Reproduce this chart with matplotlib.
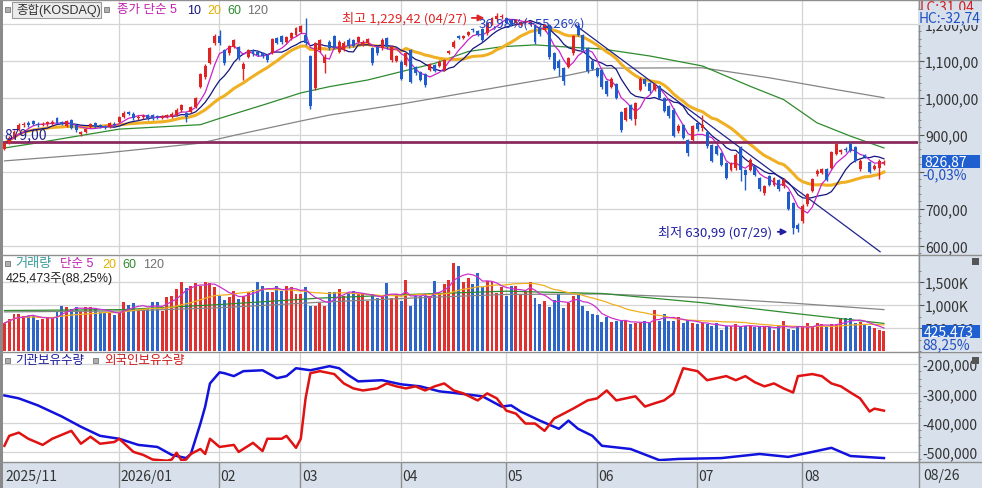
import numpy as np
import pandas as pd
import matplotlib
matplotlib.use("Agg")
import matplotlib.pyplot as plt
from matplotlib.patches import Rectangle
from matplotlib.lines import Line2D

NUM_FONT = ['Liberation Sans Narrow', 'Noto Sans CJK KR', 'DejaVu Sans']
HDR_FONT = ['Liberation Sans', 'Noto Sans CJK KR', 'DejaVu Sans']
plt.rcParams['font.family'] = NUM_FONT

# ---- daily candles (KOSDAQ), 2025/11/26 .. 2026/08/26 ----
opens = [862, 878, 893, 912, 925, 932, 937, 930, 927, 928, 930, 944, 934, 924, 939, 926, 901, 907, 922, 932, 925, 924, 921, 930,
         934, 948, 962, 957, 944, 947, 953, 952, 950, 946, 948, 948, 953, 966, 959, 962, 975, 1030, 1057, 1093, 1148,
         1167, 1129, 1120, 1138, 1138, 1077, 1111, 1128, 1124, 1122, 1115, 1122, 1161, 1167, 1152, 1161, 1170,
         1178, 1170, 1113, 1025, 1129, 1095, 1152, 1166, 1125, 1130, 1157, 1156, 1152, 1143, 1148, 1134, 1137, 1134, 1161, 1102, 1100,
         1098, 1089, 1129, 1084, 1070, 1064, 1075, 1089, 1086, 1075, 1120, 1138, 1166, 1162, 1170, 1186, 1180, 1186, 1175, 1202, 1212, 1218,
         1215, 1211, 1202, 1198, 1204, 1200, 1197, 1188, 1184, 1197, 1120, 1100, 1080, 1084, 1120, 1193, 1170, 1134, 1100,
         1080, 1075, 1045, 1030, 1036, 962, 941, 980, 942, 1022, 1051, 1040, 1022, 1031, 1000, 977, 968, 909, 925, 886, 886,
         932, 918, 906, 873, 870, 850, 823, 805, 809, 865, 805, 805, 814, 782, 741, 787, 764, 778, 760, 745, 716, 656,
         666, 712, 748, 793, 797, 807, 811, 848, 852, 862, 875, 866, 807, 845, 825, 808, 811, 822]
closes = [877, 892, 908, 926, 929, 926, 930, 927, 930, 933, 935, 931, 928, 938, 917, 912, 907, 916, 928, 921, 921, 920, 932, 927,
          948, 959, 957, 945, 949, 951, 944, 944, 947, 950, 952, 957, 968, 980, 948, 974, 998, 1064, 1086, 1134, 1166,
          1148, 1093, 1140, 1155, 1107, 1092, 1129, 1117, 1116, 1112, 1102, 1158, 1149, 1150, 1164, 1175, 1188,
          1193, 1148, 977, 1148, 1155, 1110, 1134, 1136, 1152, 1149, 1139, 1140, 1164, 1152, 1158, 1093, 1120, 1157, 1137, 1138, 1112,
          1052, 1120, 1043, 1066, 1048, 1034, 1090, 1073, 1098, 1102, 1127, 1152, 1161, 1167, 1177, 1182, 1170, 1155, 1202, 1215, 1222, 1222,
          1203, 1198, 1211, 1206, 1208, 1204, 1150, 1172, 1197, 1111, 1078, 1080, 1045, 1107, 1166, 1170, 1130, 1072, 1078,
          1060, 1028, 1010, 1052, 1000, 913, 972, 943, 985, 1051, 1036, 1018, 1036, 1000, 965, 950, 897, 924, 892, 850, 923,
          914, 925, 868, 830, 848, 818, 783, 822, 846, 805, 790, 832, 792, 752, 760, 765, 782, 752, 778, 700, 648, 646,
          707, 739, 780, 802, 806, 778, 852, 875, 858, 858, 857, 830, 830, 840, 800, 816, 830, 826.87]
highs = [880, 896, 912, 931, 935, 936, 940, 934, 934, 937, 939, 947, 938, 941, 942, 929, 910, 919, 931, 934, 928, 927, 934, 933,
         951, 963, 965, 960, 953, 955, 956, 955, 953, 953, 955, 960, 971, 984, 962, 978, 1002, 1068, 1090, 1138, 1172,
         1182, 1132, 1143, 1159, 1141, 1096, 1133, 1131, 1127, 1125, 1118, 1162, 1165, 1170, 1168, 1179, 1192,
         1197, 1215, 1116, 1152, 1159, 1118, 1156, 1170, 1156, 1153, 1161, 1160, 1168, 1156, 1162, 1137, 1140, 1161, 1165, 1142, 1116,
         1101, 1124, 1131, 1087, 1073, 1067, 1094, 1092, 1101, 1105, 1130, 1155, 1169, 1170, 1180, 1189, 1183, 1189, 1205, 1218, 1229.42, 1226,
         1218, 1214, 1214, 1209, 1212, 1208, 1200, 1191, 1200, 1200, 1123, 1104, 1083, 1110, 1170, 1202, 1173, 1137, 1104,
         1084, 1078, 1049, 1056, 1040, 965, 976, 984, 989, 1055, 1054, 1043, 1040, 1034, 1003, 980, 971, 930, 928, 889, 927,
         935, 954, 909, 876, 873, 853, 826, 826, 850, 868, 808, 836, 817, 785, 764, 790, 786, 781, 782, 748, 719, 660,
         711, 743, 784, 806, 810, 810, 856, 880, 862, 866, 880, 869, 834, 848, 828, 820, 834, 831]
lows = [858, 875, 890, 909, 920, 921, 926, 922, 923, 924, 927, 928, 925, 920, 914, 908, 897, 904, 919, 918, 917, 916, 918, 923,
        931, 945, 953, 941, 940, 943, 940, 940, 943, 942, 944, 945, 950, 962, 935, 958, 971, 1026, 1052, 1090, 1143,
        1144, 1088, 1115, 1134, 1103, 1048, 1107, 1113, 1112, 1108, 1098, 1118, 1145, 1146, 1148, 1157, 1166,
        1174, 1144, 970, 1020, 1125, 1066, 1130, 1132, 1121, 1126, 1135, 1136, 1148, 1139, 1144, 1089, 1116, 1130, 1133, 1098, 1096,
        1048, 1085, 1039, 1062, 1044, 1030, 1071, 1069, 1082, 1071, 1117, 1135, 1158, 1159, 1167, 1179, 1167, 1151, 1171, 1198, 1208, 1214,
        1199, 1194, 1198, 1194, 1200, 1196, 1145, 1168, 1180, 1106, 1074, 1058, 1035, 1080, 1116, 1166, 1126, 1068, 1074,
        1055, 1024, 1005, 1026, 996, 908, 937, 939, 925, 1018, 1032, 1014, 1018, 996, 961, 945, 893, 904, 888, 841, 882,
        910, 909, 864, 826, 844, 814, 779, 801, 805, 775, 750, 801, 788, 748, 737, 761, 760, 748, 756, 696, 630.99, 636,
        662, 708, 744, 789, 793, 774, 807, 844, 848, 854, 853, 826, 803, 836, 796, 804, 780, 818]

# volume in thousand shares
volume = [608, 695, 804, 804, 753, 768, 753, 674, 695, 732, 710, 876, 971, 949, 913, 949, 876, 949, 949, 913, 840, 826, 840, 782,
          840, 1058, 1000, 1043, 913, 913, 927, 1072, 1058, 876, 1166, 1203, 1348, 1507, 1362, 1405, 1478, 1420, 1507, 1471, 1384,
          1203, 1116, 1166, 1311, 1130, 1203, 1275, 1333, 1492, 1405, 1275, 1275, 1420, 1311, 1405, 1384, 1239,
          1239, 1384, 985, 985, 1038, 984, 1292, 1292, 1346, 1192, 1269, 1307, 1230, 1269, 1077, 1230, 1154, 1169, 1476, 1154, 1230,
          1077, 1538, 977, 1192, 1192, 1192, 1192, 1523, 1269, 1446, 1538, 1907, 1846, 1500, 1577, 1446, 1692, 1384, 1523, 1523, 1269, 1400,
          1192, 1423, 1423, 1230, 1307, 1500, 1154, 1015, 1092, 961, 1115, 1230, 938, 1038, 1192, 1215, 984, 861, 807,
          784, 631, 731, 631, 654, 654, 654, 577, 615, 615, 654, 615, 884, 654, 807, 654, 654, 731, 600, 677, 615,
          577, 600, 577, 554, 600, 461, 538, 554, 577, 523, 538, 554, 523, 523, 523, 523, 446, 538, 654, 477, 461, 523,
          523, 600, 523, 600, 577, 523, 577, 577, 707, 707, 707, 615, 631, 577, 538, 500, 460, 425.473]

# longer moving averages (they need history before the window)
ma60_idx = [0, 6, 24, 41, 45, 55, 62, 68, 76, 90, 97, 104, 111, 118, 125, 135, 146, 156, 163, 170, 177, 184]
ma60_val = [864, 876, 915, 927, 944, 984, 1013, 1030, 1048, 1093, 1125, 1138, 1143, 1137, 1132, 1113, 1086, 1031, 995, 932, 896, 864]
ma120_idx = [0, 20, 41, 48, 62, 68, 83, 104, 118, 125, 146, 160, 174, 184]
ma120_val = [829, 849, 877, 898, 937, 953, 983, 1030, 1061, 1080, 1081, 1054, 1022, 1000]
vma60_idx = [0, 25, 45, 66, 85, 105, 125, 146, 165, 184]
vma60_val = [880, 900, 1010, 1150, 1230, 1300, 1250, 1050, 820, 600]
vma120_idx = [0, 25, 45, 66, 85, 105, 125, 146, 165, 184]
vma120_val = [850, 870, 940, 1060, 1150, 1230, 1240, 1160, 1040, 900]

# holdings (thousand shares)
inst_idx = [0, 3, 7, 12, 16, 20, 24, 28, 32, 35, 38, 39, 40, 41, 42, 43, 45, 46, 48, 50, 54, 57, 59, 61, 64, 68, 70, 72, 74,
            79, 83, 87, 91, 95, 100, 104, 106, 108, 112, 116, 118, 120, 123, 125, 131, 137, 141, 150, 158, 164, 169, 173, 177, 184]
inst_val = [-307, -317, -341, -379, -414, -445, -455, -476, -483, -510, -521, -507, -455, -403, -345, -266, -228, -231, -241,
            -224, -221, -248, -241, -214, -221, -207, -214, -238, -259, -255, -269, -276, -293, -300, -310, -345, -341, -362,
            -393, -421, -393, -421, -445, -479, -490, -528, -524, -521, -507, -517, -500, -486, -514, -521]
frgn_idx = [0, 1, 3, 5, 8, 10, 14, 16, 18, 20, 23, 24, 27, 29, 31, 34, 35, 36, 37, 38, 39, 41, 42, 43, 45, 48, 49, 52, 54, 55,
            58, 59, 61, 62, 63, 64, 66, 69, 71, 73, 75, 78, 80, 82, 84, 86, 88, 90, 92, 94, 96, 99, 101, 103, 105, 107, 109,
            111, 113, 115, 117, 119, 122, 124, 126, 128, 130, 132, 134, 136, 138, 140, 142, 145, 147, 149, 151, 153, 155, 157,
            159, 161, 163, 165, 166, 169, 171, 173, 175, 177, 179, 181, 182, 184]
frgn_val = [-479, -445, -434, -455, -476, -455, -428, -472, -448, -472, -466, -455, -500, -510, -526, -530, -526, -503, -528,
            -526, -507, -490, -507, -455, -483, -476, -500, -469, -497, -455, -455, -445, -486, -455, -317, -231, -224, -234,
            -266, -283, -290, -283, -266, -276, -283, -276, -290, -276, -266, -290, -300, -324, -300, -317, -359, -369, -403,
            -403, -428, -386, -369, -352, -324, -317, -290, -324, -317, -310, -345, -334, -324, -300, -214, -224, -255, -248,
            -241, -255, -241, -262, -276, -266, -283, -297, -241, -234, -241, -266, -276, -297, -317, -362, -352, -359]

trend_idx = [119.4, 183.2]
trend_val = [1197, 583]
hline_val = 879

month_idx = [0, 24, 45, 62, 83, 105, 124, 145, 167]
month_lbl = ['2025/11', '2026/01', '02', '03', '04', '05', '06', '07', '08']

RED = '#e02424'
BLUE = '#1f5ccc'
GRID = '#d4d4d4'
STRIP = '#d8e1eb'
SEP = '#8f8f8f'


def kr(v, fmt):
    # Korean HTS style: thousands with ',' and decimals with ','
    return format(v, fmt).replace('.', ',')


W, H = 982, 489
fig = plt.figure(figsize=(W / 100, H / 100), dpi=100, facecolor='white')


def pax(x0, y0, x1, y1):
    return fig.add_axes([x0 / W, 1 - y1 / H, (x1 - x0) / W, (y1 - y0) / H])


def fx(x):
    return x / W


def fy(y):
    return 1 - y / H


PX = 4.78
XL = (-0.3, -0.3 + 915 / PX)

fig.add_artist(Rectangle((fx(918), 0), fx(64), 1, transform=fig.transFigure, facecolor=STRIP, edgecolor='none', zorder=-5))

ax1 = pax(3, 1, 918, 255)
ax2 = pax(3, 256, 918, 352)
ax3 = pax(3, 353, 918, 462)
ax4 = pax(3, 463, 918, 489)

for ax in (ax1, ax2, ax3):
    ax.set_xlim(XL)
    for s in ax.spines.values():
        s.set_visible(False)
    ax.tick_params(axis='x', bottom=False, labelbottom=False)
    ax.yaxis.tick_right()
    ax.tick_params(axis='y', which='major', direction='out', length=4, width=0.8, color='#555555',
                   pad=1, labelsize=10, labelcolor='#333333')
    ax.tick_params(axis='y', which='minor', direction='out', length=2, width=0.6, color='#777777')
    for m in month_idx[1:]:
        ax.axvline(m - 0.1, color=GRID, lw=0.9, zorder=0)

o = np.array(opens, float)
c = np.array(closes, float)
h = np.array(highs, float)
l = np.array(lows, float)
x = np.arange(len(c))
up = c >= o
cols = np.where(up, RED, BLUE)

# ---- price panel ----
ax1.set_ylim(577, 1264.5)
pt = [600, 700, 800, 900, 1000, 1100, 1200]
ax1.set_yticks(pt)
# 800 sits under the current-price box in the reference
ax1.set_yticklabels(['' if v == 800 else kr(v, ',') + ',00' for v in pt])
ax1.set_yticks(np.arange(580, 1260, 20), minor=True)
for v in pt:
    ax1.axhline(v, color=GRID, lw=0.9, zorder=0)

cs = pd.Series(c)
ax1.plot(ma120_idx, ma120_val, color='#858585', lw=0.9, zorder=2)
ax1.plot(ma60_idx, ma60_val, color='#2e8b2e', lw=0.9, zorder=2)
ax1.plot(x, cs.rolling(20, min_periods=1).mean(), color='#f0b024', lw=2.2, zorder=2)
ax1.plot(x, cs.rolling(10, min_periods=1).mean(), color='#141480', lw=0.9, zorder=2)
ax1.plot(x, cs.rolling(5, min_periods=1).mean(), color='#cc22cc', lw=0.9, zorder=2)
ax1.axhline(hline_val, color='#8a2a5e', lw=2, zorder=2.5)
ax1.plot(trend_idx, trend_val, color='#22228c', lw=0.9, zorder=2.5)

ax1.vlines(x, l, h, colors=cols, lw=1, zorder=3)
ax1.bar(x, np.maximum(np.abs(c - o), 2.2), bottom=np.minimum(o, c), width=0.62, color=cols, lw=0, zorder=4)

ax1.text(0.0, hline_val + 4, kr(hline_val, '.2f'), color='#22228c', fontsize=10, va='bottom', ha='left', zorder=6)
imax = int(np.argmax(h))
imin = int(np.argmin(l))
ax1.annotate('', xy=(imax - 2.0, 1216), xytext=(imax - 5.8, 1216),
             arrowprops=dict(arrowstyle='-|>', color=RED, lw=1.3, mutation_scale=9), zorder=6)
ax1.text(imax - 6.2, 1216, "최고 " + kr(h[imax], ',.2f').replace(',', ',') + " (04/27)", color=RED, fontsize=9.5,
         ha='right', va='center', zorder=6)
ax1.text(imax - 3.8, 1203, "36,98%(+55,26%)", color='#2040c0', fontsize=9.5, ha='left', va='center', zorder=6)
ax1.annotate('', xy=(imin - 0.6, 637), xytext=(imin - 3.8, 637),
             arrowprops=dict(arrowstyle='-|>', color='#2020a0', lw=1.3, mutation_scale=9), zorder=6)
ax1.text(imin - 4.3, 637, "최저 " + kr(l[imin], '.2f') + " (07/29)", color='#2020a0', fontsize=9.5,
         ha='right', va='center', zorder=6)

# ---- volume panel ----
vol = np.array(volume, float)
ax2.set_ylim(0, 2087)
vt = [500, 1000, 1500]
ax2.set_yticks(vt)
ax2.set_yticklabels(['500,000', '1,000K', '1,500K'])
ax2.set_yticks(np.arange(0, 2000, 250), minor=True)
for v in vt:
    ax2.axhline(v, color=GRID, lw=0.9, zorder=0)
ax2.bar(x, vol, width=0.62, color=np.where(up, '#e03030', '#2d66c8'), lw=0, zorder=2)
vs = pd.Series(vol)
ax2.plot(vma120_idx, vma120_val, color='#858585', lw=0.9, zorder=3)
ax2.plot(vma60_idx, vma60_val, color='#2e8b2e', lw=0.9, zorder=3)
ax2.plot(x, vs.rolling(20, min_periods=1).mean(), color='#f0b020', lw=0.9, zorder=3)
ax2.plot(x, vs.rolling(5, min_periods=1).mean(), color='#cc33cc', lw=0.9, zorder=3)

# ---- holdings panel ----
ax3.set_ylim(-531, -158.6)
bt = [-500, -400, -300, -200]
ax3.set_yticks(bt)
ax3.set_yticklabels([f"-{abs(v)},000" for v in bt])
ax3.tick_params(axis='y', which='major', length=0, pad=3)
ax3.set_yticks(np.arange(-525, -160, 25), minor=True)
for v in bt:
    ax3.axhline(v, color=GRID, lw=0.9, zorder=0)
ax3.plot(inst_idx, inst_val, color='#1212dd', lw=1.8, zorder=3)
ax3.plot(frgn_idx, frgn_val, color='#e01212', lw=1.8, zorder=3)

# ---- date strip ----
ax4.set_xlim(XL)
ax4.set_ylim(0, 1)
ax4.set_facecolor(STRIP)
ax4.set_xticks([])
ax4.set_yticks([])
for s in ax4.spines.values():
    s.set_visible(False)
for m, t in zip(month_idx, month_lbl):
    if m > 0:
        ax4.axvline(m - 0.1, color=SEP, lw=1)
    ax4.text(m + 0.25, 0.45, t, fontsize=10, color='#333333', va='center', ha='left')
fig.text(fx(923), fy(476), '08/26', fontsize=10, color='#333333', va='center')

# ---- frame lines ----
for yy in (0.5, 255.5, 352.5, 462.5):
    fig.add_artist(Line2D([0, 1], [fy(yy), fy(yy)], color=SEP, lw=1))
fig.add_artist(Line2D([fx(918.5), fx(918.5)], [0, 1], color=SEP, lw=1))
fig.add_artist(Rectangle((0, 0), fx(2.5), 1, transform=fig.transFigure, facecolor='#8a8a8a', edgecolor='none'))


# ---- headers ----
def sq(px, py):
    fig.add_artist(Rectangle((fx(px), fy(py + 5)), fx(5), 5 / H, transform=fig.transFigure,
                             facecolor='#b0b0b0', edgecolor='#777777', lw=0.6))


sq(5, 8)
fig.add_artist(Rectangle((fx(12), fy(19)), fx(89), 16 / H, transform=fig.transFigure,
                         facecolor='#ececec', edgecolor='#9a9a9a', lw=0.8))
fig.text(fx(16), fy(10.5), '종합(KOSDAQ)', fontsize=9, color='#333333', va='center', family=HDR_FONT)
sq(104, 8)
hx = 117
for t, col, wdt in [('종가 단순 5', '#c020b0', 70), ('10', '#141480', 20), ('20', '#e0b000', 20),
                    ('60', '#2e8b2e', 20), ('120', '#707070', 0)]:
    fig.text(fx(hx), fy(10.5), t, fontsize=9, color=col, va='center', family=HDR_FONT)
    hx += wdt

sq(5, 262)
fig.text(fx(15), fy(264.5), '거래량', fontsize=9.5, color='#3a9a9a', va='center', family=HDR_FONT)
hx = 60
for t, col, wdt in [('단순 5', '#c020b0', 42), ('20', '#e0b000', 20), ('60', '#2e8b2e', 21), ('120', '#707070', 0)]:
    fig.text(fx(hx), fy(264.5), t, fontsize=9, color=col, va='center', family=HDR_FONT)
    hx += wdt
fig.text(fx(6), fy(278.5), '425,473주(88,25%)', fontsize=9, color='#222222', va='center', family=HDR_FONT)

sq(5, 359)
fig.text(fx(15), fy(361.5), '기관보유수량', fontsize=9, color='#1a1a9a', va='center', family=HDR_FONT)
sq(93, 359)
fig.text(fx(104), fy(361.5), '외국인보유수량', fontsize=9, color='#d01818', va='center', family=HDR_FONT)

# ---- right strip labels ----
fig.text(fx(920), fy(7), 'LC:31,04', fontsize=10, color='#d02020', va='center')
fig.text(fx(918.8), fy(18.5), 'HC:-32,74', fontsize=10, color='#2050c0', va='center',
         bbox=dict(facecolor=STRIP, edgecolor='none', pad=0.3))
fig.add_artist(Rectangle((fx(922), fy(169)), fx(58), 13 / H, transform=fig.transFigure,
                         facecolor='#1f5fcf', edgecolor='none', zorder=5))
fig.text(fx(924), fy(162.5), kr(c[-1], '.2f'), fontsize=10, color='white', va='center', zorder=6)
fig.text(fx(922), fy(175.5), '-0,03%', fontsize=10, color='#2050c0', va='center', zorder=6)
fig.add_artist(Rectangle((fx(922), fy(339)), fx(58), 13 / H, transform=fig.transFigure,
                         facecolor='#1f5fcf', edgecolor='none', zorder=5))
fig.text(fx(924), fy(332.5), f"{vol[-1] * 1000:,.0f}", fontsize=10, color='white', va='center', zorder=6)
fig.text(fx(922), fy(345.5), '88,25%', fontsize=10, color='#2050c0', va='center', zorder=6,
         bbox=dict(facecolor=STRIP, edgecolor='none', pad=0.2))
for iy in (259, 358):
    fig.add_artist(Rectangle((fx(972), fy(iy + 7)), fx(7), 7 / H, transform=fig.transFigure,
                             facecolor='#555555', edgecolor='none', zorder=5))

fig.savefig('out.png', dpi=100, facecolor='white')
